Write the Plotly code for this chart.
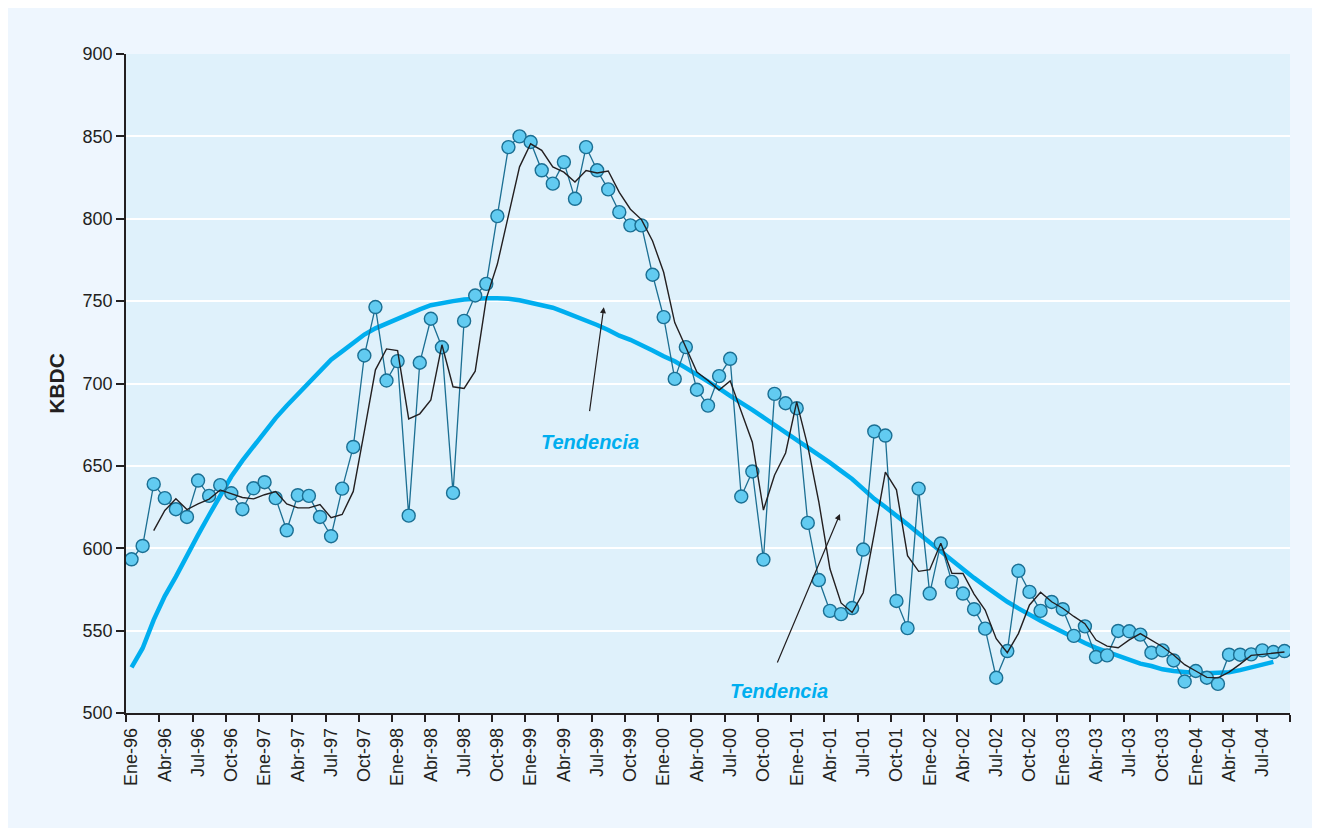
import plotly.graph_objects as go

# monthly series, Ene-96 .. Sep-04 (105 months)
months = list(range(105))

tick_pos = list(range(0, 105, 3))
tick_labels = [
    f"{m}-{y:02d}"
    for y in [96, 97, 98, 99, 0, 1, 2, 3, 4]
    for m in ["Ene", "Abr", "Jul", "Oct"]
][:35]

produccion = [
    593.3, 601.4, 638.9, 630.4, 623.7, 619.0, 641.1, 631.8, 638.3, 633.4,
    623.7, 636.4, 640.1, 630.4, 610.9, 632.2, 631.8, 619.0, 607.3, 636.2,
    661.5, 717.0, 746.4, 701.8, 713.6, 619.8, 712.6, 739.3, 722.0, 633.6,
    738.0, 753.4, 760.5, 801.6, 843.5, 850.0, 846.6, 829.4, 821.3, 834.4,
    812.1, 843.5, 829.4, 817.8, 804.0, 796.0, 796.0, 766.0, 740.3, 702.8,
    722.1, 696.2, 686.6, 704.5, 715.0, 631.4, 646.6, 593.1, 693.7, 688.0,
    685.0, 615.4, 580.7, 562.0, 560.0, 563.7, 599.2, 670.9, 668.4, 568.0,
    551.5, 636.2, 572.5, 602.9, 579.6, 572.5, 563.0, 551.2, 521.4, 537.6,
    586.3, 573.5, 562.0, 567.4, 563.0, 546.8, 552.6, 534.0, 535.0, 549.8,
    549.6, 547.6, 536.6, 538.0, 531.9, 519.1, 525.5, 521.4, 517.7, 535.4,
    535.4, 535.6, 538.0, 537.0, 537.6,
]

promedio_movil = [
    None, None, 610.7, 622.9, 630.0, 623.5, 626.9, 629.8, 635.4, 633.0,
    630.8, 630.0, 632.5, 634.4, 626.9, 624.5, 624.5, 626.5, 618.6, 620.5,
    634.5, 671.0, 708.3, 721.0, 720.0, 678.5, 681.6, 690.0, 723.5, 698.0,
    697.0, 707.5, 751.5, 772.5, 802.5, 831.5, 845.5, 841.5, 831.5, 828.3,
    822.3, 829.3, 827.8, 829.0, 816.0, 805.8, 799.5, 786.5, 767.5, 737.0,
    722.0, 707.0, 701.8, 696.0, 701.6, 682.5, 664.4, 623.2, 644.3, 657.8,
    688.8, 662.0, 628.0, 587.5, 566.8, 561.0, 573.0, 609.0, 646.2, 635.5,
    595.5, 586.0, 587.0, 603.0, 584.8, 584.7, 572.2, 562.5, 545.1, 536.6,
    548.2, 565.6, 573.3, 567.5, 563.6, 558.6, 554.2, 544.3, 540.6, 539.6,
    544.4, 548.2, 544.0, 540.2, 535.2, 529.3, 525.5, 521.6, 521.3, 524.8,
    529.7, 535.0, 535.6, 536.2, 537.0,
]

tendencia = [
    527.7, 539.3, 556.5, 571.0, 582.8, 596.0, 608.1, 620.2, 632.4, 643.5,
    653.2, 661.7, 671.0, 679.0, 686.5, 693.5, 700.0, 707.0, 714.5, 719.5,
    724.5, 729.7, 733.5, 736.5, 739.5, 742.5, 745.0, 747.5, 749.0, 750.0,
    751.0, 751.5, 751.8, 751.8, 751.5, 750.5, 749.0, 747.5, 746.0, 743.5,
    741.0, 738.5, 735.5, 732.5, 729.0, 726.5, 723.5, 720.0, 716.5, 713.5,
    709.5, 705.5, 701.5, 697.0, 692.5, 688.5, 684.0, 679.5, 675.0, 670.5,
    666.0, 661.0, 656.5, 652.0, 647.0, 642.0, 636.0, 630.0, 625.0, 620.0,
    614.5, 609.0, 603.5, 598.5, 593.0, 587.0, 582.0, 577.0, 572.0, 567.5,
    563.5, 559.5, 556.0, 552.5, 549.0, 546.0, 542.5, 539.5, 537.0, 534.5,
    532.0, 530.0, 528.5, 526.5, 525.5, 524.8, 524.3, 524.2, 524.3, 524.7,
    526.0, 527.5, 529.5, 531.0,
]

INK = "#231F20"
CYAN = "#00AEEF"
TEAL = "#1B6F93"
FONT = "Liberation Sans, Arial, sans-serif"

fig = go.Figure()
fig.add_scatter(
    x=months[:len(tendencia)], y=tendencia, mode="lines",
    line=dict(color=CYAN, width=4.5), hoverinfo="skip",
)
fig.add_scatter(
    x=months, y=produccion, mode="lines+markers",
    line=dict(color=TEAL, width=1.3),
    marker=dict(symbol="circle", size=13, color="#62CBF1",
                line=dict(color=TEAL, width=1.4)),
)
fig.add_scatter(
    x=months, y=promedio_movil, mode="lines",
    line=dict(color=INK, width=1.4),
)

for tx, ty, ax, ay, hx, hy in [
    (41.4, 664.7, 41.3, 682.3, 42.6, 746.3),
    (58.4, 513.5, 58.2, 529.7, 63.9, 620.8),
]:
    fig.add_annotation(
        x=tx, y=ty, text="<b><i>Tendencia</i></b>", showarrow=False,
        font=dict(family=FONT, size=20, color=CYAN),
    )
    fig.add_annotation(
        x=hx, y=hy, ax=ax, ay=ay, axref="x", ayref="y", text="",
        showarrow=True, arrowhead=2, arrowsize=1, arrowwidth=1.2,
        arrowcolor=INK,
    )

fig.update_layout(
    width=1304, height=820,
    margin=dict(l=118, r=22, t=46, b=115),
    paper_bgcolor="#EEF6FE",
    plot_bgcolor="#DFF1FB",
    showlegend=False,
    font=dict(family=FONT, color=INK),
    xaxis=dict(
        range=[-0.5, 104.5],
        tickmode="array", tickvals=tick_pos, ticktext=tick_labels,
        tickangle=-90, tickfont=dict(size=18),
        ticks="outside", ticklen=6, tickcolor="rgba(0,0,0,0)",
        showline=True, linecolor=INK, linewidth=1.5,
        showgrid=False, zeroline=False,
        minor=dict(tickmode="linear", tick0=-0.5, dtick=3,
                   ticks="outside", ticklen=7, tickwidth=1.5,
                   tickcolor=INK, showgrid=False),
    ),
    yaxis=dict(
        range=[500, 900], dtick=50,
        tickfont=dict(size=18),
        ticks="outside", ticklen=8, tickwidth=1.5, tickcolor=INK,
        showline=True, linecolor=INK, linewidth=1.5,
        showgrid=True, gridcolor="white", gridwidth=1.5,
        zeroline=False,
        title=dict(text="<b>KBDC</b>", font=dict(size=21), standoff=12),
    ),
)

fig.write_html("out.html")
